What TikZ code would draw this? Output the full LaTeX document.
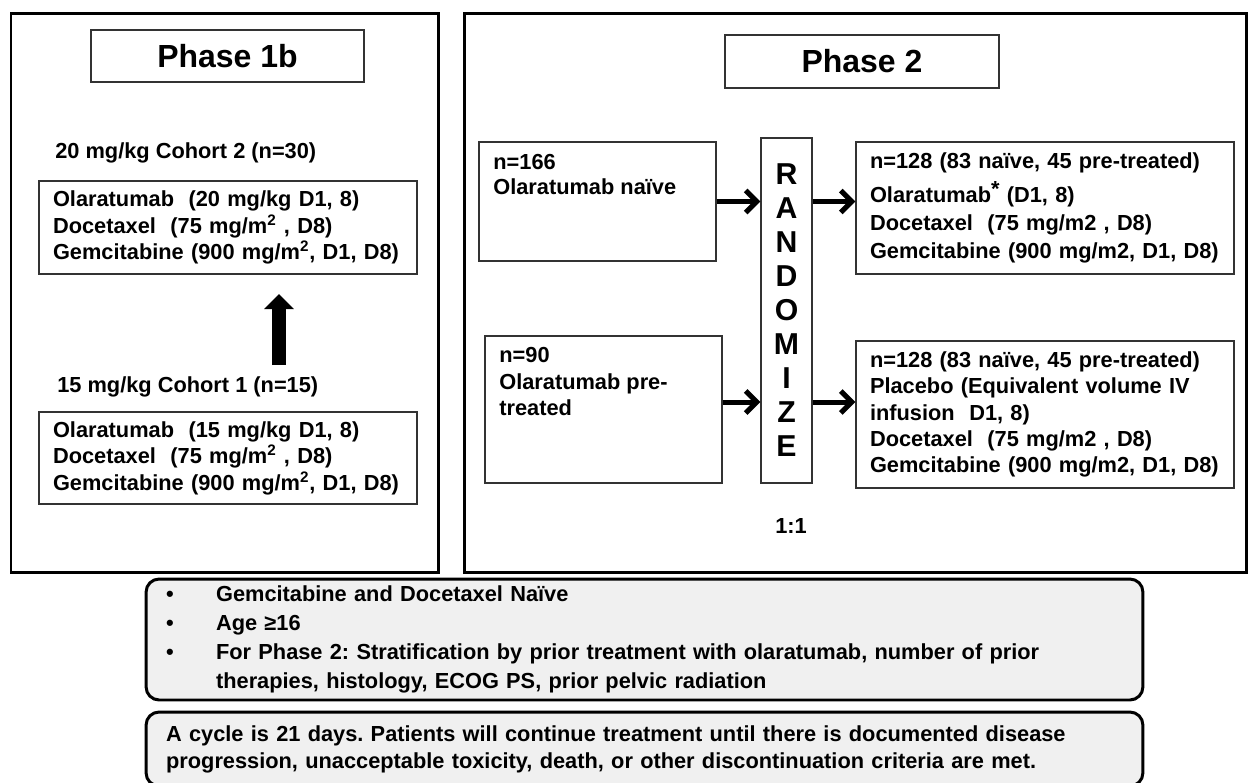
\documentclass[tikz,border=0pt]{standalone}
\usepackage{fontspec}
\setmainfont{Liberation Sans}
\usepackage{array}
\usetikzlibrary{arrows.meta}
\newcommand{\bodyfont}[1]{\bfseries\fontsize{12.4}{#1}\selectfont}
\frenchspacing

\begin{document}
\begin{tikzpicture}[x=0.02cm,y=-0.02cm,>={Straight Barb[length=0.22cm,width=0.44cm]},font=\bodyfont{15.1}]
\tikzstyle{panel}=[draw=black,line width=0.06cm]
\tikzstyle{title}=[draw=black!80,line width=0.03cm,inner sep=0pt,font=\bfseries\fontsize{18.2}{22}\selectfont]
\tikzstyle{box}=[draw=black!80,line width=0.03cm,align=left,inner xsep=0.28cm,inner ysep=0pt]
\tikzstyle{txt}=[inner sep=0pt,align=left]
\tikzstyle{flow}=[->,line width=0.1cm]
\tikzstyle{note}=[draw=black,line width=0.06cm,rounded corners=0.26cm,fill=gray!12,inner xsep=0.4cm,inner ysep=0pt,align=left]

\useasboundingbox (0,0) rectangle (1248,782);
\clip (0,0) rectangle (1248,782);
\draw[panel] (11,13) rectangle (438,572);
\draw[panel] (464,13) rectangle (1246,572);

\node[title,minimum width=5.46cm,minimum height=1.04cm] (ph1) at (227.5,56) {Phase 1b};
\node[title,minimum width=5.48cm,minimum height=1.06cm] (ph2) at (862,61.5) {Phase 2};

\node[txt,anchor=west] (coh2) at (55,153) {20 mg/kg Cohort 2 (n=30)};
\node[box,text width=7cm,minimum height=1.86cm] (dose20) at (228,227.5)
  {Olaratumab\ \ (20 mg/kg D1, 8)\\Docetaxel\ \ (75 mg/m\textsuperscript{2} , D8)\\Gemcitabine (900 mg/m\textsuperscript{2}, D1, D8)};
\node[txt,anchor=west] (coh1) at (57,387) {15 mg/kg Cohort 1 (n=15)};
\node[box,text width=7cm,minimum height=1.84cm] (dose15) at (228,458)
  {Olaratumab\ \ (15 mg/kg D1, 8)\\Docetaxel\ \ (75 mg/m\textsuperscript{2} , D8)\\Gemcitabine (900 mg/m\textsuperscript{2}, D1, D8)};
\coordinate (up0) at (279,365);
\coordinate (up1) at (279,294);
\draw[line width=0.28cm,-{Triangle[length=0.3cm,width=0.58cm]}] (up0) -- (up1);

\node[box,minimum width=4.74cm,minimum height=2.38cm] (naive) at (597.5,201.5) {};
\node[txt,anchor=west,font=\bodyfont{14.2}] (naivetxt) at (493,174.5) {n=166\\Olaratumab naïve};
\node[box,minimum width=4.74cm,minimum height=2.94cm] (pre) at (603.5,409.5) {};
\node[txt,anchor=west] (pretxt) at (499,381.5) {n=90\\Olaratumab pre-\\treated};
\node[box,minimum width=1.02cm,minimum height=6.9cm,inner xsep=0pt,align=center,font=\bfseries\fontsize{17.2}{19.35}\selectfont] (rand) at (786.5,310.5)
  {R\\A\\N\\D\\O\\M\\I\\Z\\E};
\node[box,text width=7cm,minimum height=2.64cm,font=\bodyfont{15.9}] (res1) at (1045,208)
  {n=128 (83 naïve, 45 pre-treated)\\[0.12cm]Olaratumab\raisebox{0.3em}{*} (D1, 8)\\Docetaxel\ \ (75 mg/m2 , D8)\\Gemcitabine (900 mg/m2, D1, D8)};
\node[box,text width=7cm,minimum height=2.94cm,font=\bodyfont{14.9}] (res2) at (1045,414.5)
  {n=128 (83 naïve, 45 pre-treated)\\Placebo (Equivalent volume IV\\infusion\ \ D1, 8)\\Docetaxel\ \ (75 mg/m2 , D8)\\Gemcitabine (900 mg/m2, D1, D8)};
\node[txt] (ratio) at (791,526) {1:1};

\coordinate (lo) at ([yshift=0.15cm]pre.east);
\draw[flow] (naive.east) -- (naive.east -| rand.west);
\draw[flow] (rand.east |- naive.east) -- (res1.west |- naive.east);
\draw[flow] (lo) -- (lo -| rand.west);
\draw[flow] (rand.east |- lo) -- (res2.west |- lo);

\node[note,minimum height=2.42cm,text width=19.14cm,font=\bodyfont{16.5}] (crit) at (644.5,639.5)
  {\begin{tabular}{@{}p{1.0cm}@{}l@{}}
   \textbullet & Gemcitabine and Docetaxel Naïve\\
   \textbullet & Age ≥16\\
   \textbullet & For Phase 2: Stratification by prior treatment with olaratumab, number of prior\\
               & therapies, histology, ECOG PS, prior pelvic radiation
   \end{tabular}};
\node[note,minimum height=1.48cm,text width=19.14cm,font=\bodyfont{15.4}] (cycle) at (644.5,749)
  {A cycle is 21 days. Patients will continue treatment until there is documented disease\\progression, unacceptable toxicity, death, or other discontinuation criteria are met.};
\end{tikzpicture}
\end{document}
